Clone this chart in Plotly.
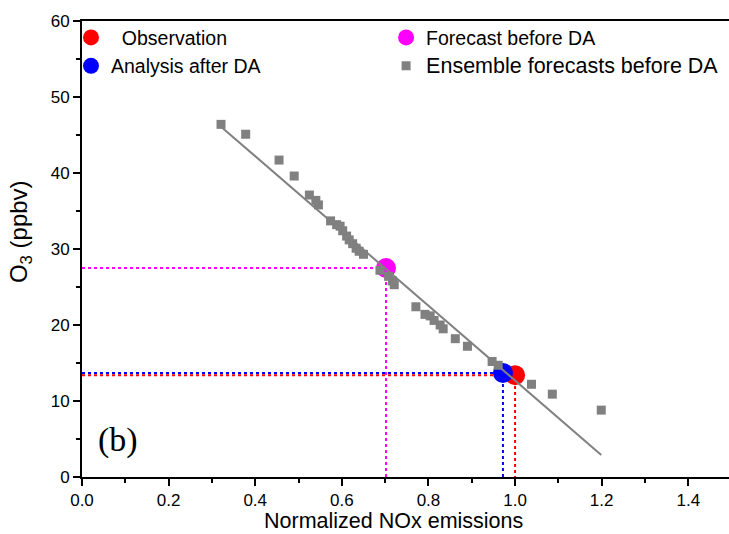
import plotly.graph_objects as go

# Ensemble forecasts before DA
ens_x = [0.321, 0.378, 0.455, 0.490, 0.525, 0.540, 0.546, 0.574, 0.588, 0.596,
         0.602, 0.611, 0.617, 0.625, 0.633, 0.640, 0.650, 0.688, 0.708, 0.717,
         0.721, 0.771, 0.792, 0.804, 0.813, 0.827, 0.834, 0.862, 0.890, 0.947,
         0.961, 1.038, 1.086, 1.199]
ens_y = [46.4, 45.1, 41.7, 39.6, 37.1, 36.4, 35.8, 33.7, 33.2, 33.0,
         32.4, 31.7, 31.2, 30.7, 30.1, 29.7, 29.3, 27.2, 26.4, 25.8,
         25.3, 22.4, 21.4, 21.2, 20.6, 20.0, 19.5, 18.2, 17.2, 15.2,
         14.7, 12.2, 10.9, 8.8]

# Linear fit line
fit_x = [0.321, 1.199]
fit_y = [46.1, 2.9]

# Key points
obs_x, obs_y = 1.000, 13.4
ana_x, ana_y = 0.972, 13.7
fc_x, fc_y = 0.702, 27.5

x_ticks = [0.0, 0.2, 0.4, 0.6, 0.8, 1.0, 1.2, 1.4]
y_ticks = [0, 10, 20, 30, 40, 50, 60]

RED = "#ff0000"
BLUE = "#0000ff"
MAG = "#ff00ff"
GRAY = "#808080"
FONT = "Liberation Sans, Arial, sans-serif"

fig = go.Figure()

# Dotted guide lines
for (px, py, col) in [(fc_x, fc_y, MAG), (obs_x, obs_y, RED), (ana_x, ana_y, BLUE)]:
    fig.add_trace(go.Scatter(x=[0, px, px], y=[py, py, 0], mode="lines",
                             line=dict(color=col, width=2, dash="dot"),
                             showlegend=False, hoverinfo="skip"))

fig.add_trace(go.Scatter(x=[obs_x], y=[obs_y], mode="markers", name="&nbsp;&nbsp;Observation",
                         marker=dict(color=RED, size=20), legend="legend", legendrank=1))
fig.add_trace(go.Scatter(x=[ana_x], y=[ana_y], mode="markers", name="Analysis after DA",
                         marker=dict(color=BLUE, size=20), legend="legend", legendrank=2))
fig.add_trace(go.Scatter(x=[fc_x], y=[fc_y], mode="markers", name="Forecast before DA",
                         marker=dict(color=MAG, size=20), legend="legend2", legendrank=1))
fig.add_trace(go.Scatter(x=ens_x, y=ens_y, mode="markers",
                         name="<span style='font-size:21.5px'>Ensemble forecasts before DA</span>",
                         marker=dict(color=GRAY, size=9, symbol="square"),
                         legend="legend2", legendrank=2))
fig.add_trace(go.Scatter(x=fit_x, y=fit_y, mode="lines",
                         line=dict(color=GRAY, width=2), showlegend=False))

fig.add_annotation(x=0.083, y=4.9, xref="x", yref="y", text="(b)", showarrow=False,
                   font=dict(family="Liberation Serif, Times New Roman, serif", size=34, color="black"))

# Axis titles (placed as in the reference, slightly off-centre)
fig.add_annotation(x=0.482, y=-0.097, xref="paper", yref="paper", xanchor="center",
                   yanchor="middle", text="Normalized NOx emissions", showarrow=False,
                   font=dict(size=21.5, color="black"))
fig.add_annotation(x=-0.096, y=0.539, xref="paper", yref="paper", xanchor="center",
                   yanchor="middle", text="O<sub>3</sub> (ppbv)", textangle=-90, showarrow=False,
                   font=dict(size=24, color="black"))

leg_common = dict(orientation="v", yanchor="top", xanchor="left", y=1.006,
                  itemsizing="trace", font=dict(size=19.5),
                  bgcolor="rgba(0,0,0,0)", tracegroupgap=0)

fig.update_layout(
    width=729, height=534,
    margin=dict(l=82, r=0, t=21, b=57),
    plot_bgcolor="white", paper_bgcolor="white",
    font=dict(family=FONT, size=17, color="black"),
    legend=dict(x=-0.017, **leg_common),
    legend2=dict(x=0.47, **leg_common),
    xaxis=dict(range=[0, 1.494], tickvals=x_ticks, ticktext=[f"{v:.1f}" for v in x_ticks],
               ticks="outside", ticklen=7, tickwidth=1.5, tickcolor="black",
               showline=True, linecolor="black", linewidth=2, mirror=True,
               showgrid=False, zeroline=False,
               minor=dict(dtick=0.1, tick0=0, ticks="outside", ticklen=4, tickcolor="black"),
               tickfont=dict(size=17)),
    yaxis=dict(range=[0, 60], tickvals=y_ticks,
               ticks="outside", ticklen=7, tickwidth=1.5, tickcolor="black",
               showline=True, linecolor="black", linewidth=2, mirror=False,
               showgrid=False, zeroline=False,
               minor=dict(dtick=5, tick0=0, ticks="outside", ticklen=4, tickcolor="black"),
               tickfont=dict(size=17)),
)

fig.write_html("out.html")
